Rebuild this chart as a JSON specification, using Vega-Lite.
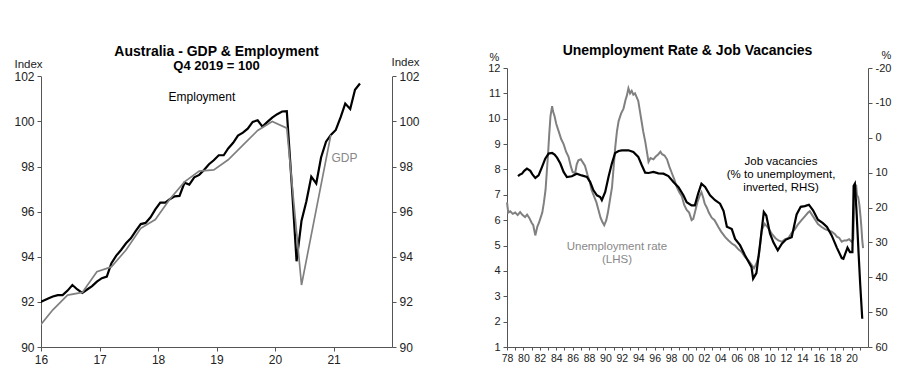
{
  "$schema": "https://vega.github.io/schema/vega-lite/v6.json",
  "background": "white",
  "padding": {"left": 13, "top": 44, "right": 5, "bottom": 2},
  "spacing": 67,
  "config": {
    "font": "Liberation Sans",
    "view": {"stroke": null},
    "axis": {"grid": false, "domainColor": "#555", "tickColor": "#555", "labelColor": "#222", "labelFont": "Liberation Sans", "titleFont": "Liberation Sans", "titleFontWeight": "normal", "titleColor": "#222", "tickSize": 4, "labelOverlap": false}
  },
  "datasets": {
    "gdpemp": [
      {"date": "2015-12-15", "series": "Employment", "value": 91.95},
      {"date": "2016-01-15", "series": "Employment", "value": 92.05},
      {"date": "2016-02-15", "series": "Employment", "value": 92.15},
      {"date": "2016-03-15", "series": "Employment", "value": 92.24},
      {"date": "2016-04-15", "series": "Employment", "value": 92.3},
      {"date": "2016-05-15", "series": "Employment", "value": 92.3},
      {"date": "2016-06-15", "series": "Employment", "value": 92.5},
      {"date": "2016-07-15", "series": "Employment", "value": 92.75},
      {"date": "2016-08-15", "series": "Employment", "value": 92.55},
      {"date": "2016-09-15", "series": "Employment", "value": 92.4},
      {"date": "2016-10-15", "series": "Employment", "value": 92.55},
      {"date": "2016-11-15", "series": "Employment", "value": 92.7},
      {"date": "2016-12-15", "series": "Employment", "value": 92.9},
      {"date": "2017-01-15", "series": "Employment", "value": 93.05},
      {"date": "2017-02-15", "series": "Employment", "value": 93.12},
      {"date": "2017-03-15", "series": "Employment", "value": 93.7},
      {"date": "2017-04-15", "series": "Employment", "value": 94.05},
      {"date": "2017-05-15", "series": "Employment", "value": 94.3},
      {"date": "2017-06-15", "series": "Employment", "value": 94.6},
      {"date": "2017-07-15", "series": "Employment", "value": 94.82},
      {"date": "2017-08-15", "series": "Employment", "value": 95.15},
      {"date": "2017-09-15", "series": "Employment", "value": 95.45},
      {"date": "2017-10-15", "series": "Employment", "value": 95.5},
      {"date": "2017-11-15", "series": "Employment", "value": 95.75},
      {"date": "2017-12-15", "series": "Employment", "value": 96.1},
      {"date": "2018-01-15", "series": "Employment", "value": 96.4},
      {"date": "2018-02-15", "series": "Employment", "value": 96.4},
      {"date": "2018-03-15", "series": "Employment", "value": 96.55},
      {"date": "2018-04-15", "series": "Employment", "value": 96.68},
      {"date": "2018-05-15", "series": "Employment", "value": 96.7},
      {"date": "2018-06-15", "series": "Employment", "value": 97.28},
      {"date": "2018-07-15", "series": "Employment", "value": 97.2},
      {"date": "2018-08-15", "series": "Employment", "value": 97.52},
      {"date": "2018-09-15", "series": "Employment", "value": 97.63},
      {"date": "2018-10-15", "series": "Employment", "value": 97.85},
      {"date": "2018-11-15", "series": "Employment", "value": 98.1},
      {"date": "2018-12-15", "series": "Employment", "value": 98.28},
      {"date": "2019-01-15", "series": "Employment", "value": 98.5},
      {"date": "2019-02-15", "series": "Employment", "value": 98.5},
      {"date": "2019-03-15", "series": "Employment", "value": 98.8},
      {"date": "2019-04-15", "series": "Employment", "value": 99.05},
      {"date": "2019-05-15", "series": "Employment", "value": 99.37},
      {"date": "2019-06-15", "series": "Employment", "value": 99.5},
      {"date": "2019-07-15", "series": "Employment", "value": 99.68},
      {"date": "2019-08-15", "series": "Employment", "value": 99.98},
      {"date": "2019-09-15", "series": "Employment", "value": 100.05},
      {"date": "2019-10-15", "series": "Employment", "value": 99.77},
      {"date": "2019-11-15", "series": "Employment", "value": 99.98},
      {"date": "2019-12-15", "series": "Employment", "value": 100.17},
      {"date": "2020-01-15", "series": "Employment", "value": 100.32},
      {"date": "2020-02-15", "series": "Employment", "value": 100.44},
      {"date": "2020-03-15", "series": "Employment", "value": 100.45},
      {"date": "2020-04-15", "series": "Employment", "value": 97.2},
      {"date": "2020-05-15", "series": "Employment", "value": 93.8},
      {"date": "2020-06-15", "series": "Employment", "value": 95.6},
      {"date": "2020-07-15", "series": "Employment", "value": 96.45},
      {"date": "2020-08-15", "series": "Employment", "value": 97.55},
      {"date": "2020-09-15", "series": "Employment", "value": 97.25},
      {"date": "2020-10-15", "series": "Employment", "value": 98.4},
      {"date": "2020-11-15", "series": "Employment", "value": 99.1},
      {"date": "2020-12-15", "series": "Employment", "value": 99.4},
      {"date": "2021-01-15", "series": "Employment", "value": 99.62},
      {"date": "2021-02-15", "series": "Employment", "value": 100.2},
      {"date": "2021-03-15", "series": "Employment", "value": 100.79},
      {"date": "2021-04-15", "series": "Employment", "value": 100.55},
      {"date": "2021-05-15", "series": "Employment", "value": 101.4},
      {"date": "2021-06-15", "series": "Employment", "value": 101.68},
      {"date": "2015-12-15", "series": "GDP", "value": 90.85},
      {"date": "2016-03-15", "series": "GDP", "value": 91.65},
      {"date": "2016-06-15", "series": "GDP", "value": 92.3},
      {"date": "2016-09-15", "series": "GDP", "value": 92.42},
      {"date": "2016-12-15", "series": "GDP", "value": 93.34},
      {"date": "2017-03-15", "series": "GDP", "value": 93.55},
      {"date": "2017-06-15", "series": "GDP", "value": 94.3},
      {"date": "2017-09-15", "series": "GDP", "value": 95.26},
      {"date": "2017-12-15", "series": "GDP", "value": 95.65},
      {"date": "2018-03-15", "series": "GDP", "value": 96.55},
      {"date": "2018-06-15", "series": "GDP", "value": 97.32},
      {"date": "2018-09-15", "series": "GDP", "value": 97.8},
      {"date": "2018-12-15", "series": "GDP", "value": 97.85},
      {"date": "2019-03-15", "series": "GDP", "value": 98.3},
      {"date": "2019-06-15", "series": "GDP", "value": 98.95},
      {"date": "2019-09-15", "series": "GDP", "value": 99.6},
      {"date": "2019-12-15", "series": "GDP", "value": 100.0},
      {"date": "2020-03-15", "series": "GDP", "value": 99.7},
      {"date": "2020-06-15", "series": "GDP", "value": 92.75},
      {"date": "2020-09-15", "series": "GDP", "value": 96.1},
      {"date": "2020-12-15", "series": "GDP", "value": 99.4}
    ],
    "unemp": [
      {"year": 1978.0, "rate": 6.7}, {"year": 1978.15, "rate": 6.3}, {"year": 1978.4, "rate": 6.35}, {"year": 1978.7, "rate": 6.25},
      {"year": 1979.0, "rate": 6.3}, {"year": 1979.3, "rate": 6.2}, {"year": 1979.6, "rate": 6.32}, {"year": 1979.9, "rate": 6.2},
      {"year": 1980.2, "rate": 6.12}, {"year": 1980.45, "rate": 6.22}, {"year": 1980.7, "rate": 6.1}, {"year": 1981.0, "rate": 5.9},
      {"year": 1981.2, "rate": 5.8}, {"year": 1981.45, "rate": 5.4}, {"year": 1981.7, "rate": 5.75}, {"year": 1981.9, "rate": 5.9},
      {"year": 1982.1, "rate": 6.1}, {"year": 1982.3, "rate": 6.3}, {"year": 1982.5, "rate": 6.7}, {"year": 1982.7, "rate": 7.2},
      {"year": 1982.85, "rate": 7.9}, {"year": 1983.0, "rate": 8.6}, {"year": 1983.15, "rate": 9.4}, {"year": 1983.3, "rate": 10.1},
      {"year": 1983.5, "rate": 10.5}, {"year": 1983.6, "rate": 10.3}, {"year": 1983.8, "rate": 10.1}, {"year": 1984.0, "rate": 9.8},
      {"year": 1984.3, "rate": 9.5}, {"year": 1984.6, "rate": 9.2}, {"year": 1984.9, "rate": 9.0}, {"year": 1985.2, "rate": 8.7},
      {"year": 1985.5, "rate": 8.5}, {"year": 1985.8, "rate": 8.1}, {"year": 1986.0, "rate": 7.9}, {"year": 1986.3, "rate": 7.85},
      {"year": 1986.5, "rate": 8.2}, {"year": 1986.7, "rate": 8.36}, {"year": 1987.0, "rate": 8.4}, {"year": 1987.3, "rate": 8.25},
      {"year": 1987.5, "rate": 8.15}, {"year": 1987.8, "rate": 7.8}, {"year": 1988.1, "rate": 7.5}, {"year": 1988.3, "rate": 7.2},
      {"year": 1988.6, "rate": 6.95}, {"year": 1988.9, "rate": 6.7}, {"year": 1989.15, "rate": 6.4}, {"year": 1989.4, "rate": 6.1},
      {"year": 1989.6, "rate": 5.95}, {"year": 1989.85, "rate": 5.8}, {"year": 1990.1, "rate": 6.0}, {"year": 1990.3, "rate": 6.3},
      {"year": 1990.55, "rate": 6.8}, {"year": 1990.8, "rate": 7.3}, {"year": 1991.0, "rate": 8.1}, {"year": 1991.2, "rate": 8.9},
      {"year": 1991.4, "rate": 9.5}, {"year": 1991.6, "rate": 9.9}, {"year": 1991.9, "rate": 10.2}, {"year": 1992.2, "rate": 10.4},
      {"year": 1992.45, "rate": 10.75}, {"year": 1992.6, "rate": 10.9}, {"year": 1992.8, "rate": 11.2}, {"year": 1993.0, "rate": 11.0},
      {"year": 1993.2, "rate": 11.1}, {"year": 1993.4, "rate": 10.95}, {"year": 1993.6, "rate": 11.0}, {"year": 1993.8, "rate": 10.85},
      {"year": 1994.0, "rate": 10.7}, {"year": 1994.2, "rate": 10.3}, {"year": 1994.4, "rate": 9.9}, {"year": 1994.6, "rate": 9.5},
      {"year": 1994.85, "rate": 9.1}, {"year": 1995.05, "rate": 8.7}, {"year": 1995.25, "rate": 8.3}, {"year": 1995.5, "rate": 8.45},
      {"year": 1995.85, "rate": 8.4}, {"year": 1996.1, "rate": 8.5}, {"year": 1996.45, "rate": 8.6}, {"year": 1996.7, "rate": 8.7},
      {"year": 1996.9, "rate": 8.6}, {"year": 1997.2, "rate": 8.55}, {"year": 1997.5, "rate": 8.4}, {"year": 1997.8, "rate": 8.1},
      {"year": 1998.1, "rate": 7.85}, {"year": 1998.4, "rate": 7.6}, {"year": 1998.7, "rate": 7.3}, {"year": 1999.0, "rate": 7.1},
      {"year": 1999.3, "rate": 6.95}, {"year": 1999.6, "rate": 6.6}, {"year": 1999.9, "rate": 6.4}, {"year": 2000.2, "rate": 6.3},
      {"year": 2000.5, "rate": 6.0}, {"year": 2000.7, "rate": 6.05}, {"year": 2000.9, "rate": 6.3}, {"year": 2001.2, "rate": 6.7},
      {"year": 2001.5, "rate": 6.98}, {"year": 2001.7, "rate": 7.1}, {"year": 2001.9, "rate": 6.9}, {"year": 2002.1, "rate": 6.65},
      {"year": 2002.35, "rate": 6.5}, {"year": 2002.6, "rate": 6.3}, {"year": 2002.95, "rate": 6.1}, {"year": 2003.3, "rate": 6.0},
      {"year": 2003.76, "rate": 5.73}, {"year": 2004.1, "rate": 5.55}, {"year": 2004.6, "rate": 5.33}, {"year": 2005.0, "rate": 5.2},
      {"year": 2005.4, "rate": 5.08}, {"year": 2005.8, "rate": 5.0}, {"year": 2006.2, "rate": 4.85}, {"year": 2006.6, "rate": 4.75},
      {"year": 2007.0, "rate": 4.55}, {"year": 2007.4, "rate": 4.42}, {"year": 2007.8, "rate": 4.25}, {"year": 2008.1, "rate": 4.1},
      {"year": 2008.4, "rate": 4.29}, {"year": 2008.7, "rate": 4.6}, {"year": 2009.05, "rate": 5.6}, {"year": 2009.4, "rate": 5.86},
      {"year": 2009.7, "rate": 5.75}, {"year": 2010.0, "rate": 5.6}, {"year": 2010.26, "rate": 5.47}, {"year": 2010.7, "rate": 5.3},
      {"year": 2011.07, "rate": 5.2}, {"year": 2011.5, "rate": 5.15}, {"year": 2011.9, "rate": 5.25}, {"year": 2012.3, "rate": 5.3},
      {"year": 2012.7, "rate": 5.5}, {"year": 2013.1, "rate": 5.65}, {"year": 2013.5, "rate": 5.85}, {"year": 2013.9, "rate": 6.0},
      {"year": 2014.3, "rate": 6.15}, {"year": 2014.7, "rate": 6.3}, {"year": 2014.9, "rate": 6.35}, {"year": 2015.2, "rate": 6.2},
      {"year": 2015.5, "rate": 6.05}, {"year": 2015.9, "rate": 5.85}, {"year": 2016.35, "rate": 5.73}, {"year": 2016.75, "rate": 5.65},
      {"year": 2017.15, "rate": 5.6}, {"year": 2017.57, "rate": 5.55}, {"year": 2017.97, "rate": 5.45}, {"year": 2018.2, "rate": 5.35},
      {"year": 2018.5, "rate": 5.3}, {"year": 2018.8, "rate": 5.15}, {"year": 2019.1, "rate": 5.2}, {"year": 2019.4, "rate": 5.2},
      {"year": 2019.7, "rate": 5.25}, {"year": 2020.0, "rate": 5.15}, {"year": 2020.2, "rate": 5.25}, {"year": 2020.3, "rate": 6.4},
      {"year": 2020.45, "rate": 7.2}, {"year": 2020.55, "rate": 7.4}, {"year": 2020.65, "rate": 7.0}, {"year": 2020.8, "rate": 6.9},
      {"year": 2020.95, "rate": 6.6}, {"year": 2021.1, "rate": 6.1}, {"year": 2021.2, "rate": 5.7}, {"year": 2021.3, "rate": 5.2},
      {"year": 2021.4, "rate": 4.9}
    ],
    "vac": [
      {"year": 1979.34, "ratio": 11.0}, {"year": 1979.6, "ratio": 10.5}, {"year": 1979.83, "ratio": 10.3}, {"year": 1980.1, "ratio": 9.5},
      {"year": 1980.43, "ratio": 8.85}, {"year": 1980.84, "ratio": 9.5}, {"year": 1981.1, "ratio": 10.5}, {"year": 1981.45, "ratio": 11.5},
      {"year": 1981.85, "ratio": 10.77}, {"year": 1982.26, "ratio": 8.4}, {"year": 1982.66, "ratio": 6.0}, {"year": 1983.07, "ratio": 4.55},
      {"year": 1983.5, "ratio": 4.37}, {"year": 1983.8, "ratio": 4.8}, {"year": 1984.1, "ratio": 5.7}, {"year": 1984.5, "ratio": 7.4},
      {"year": 1984.9, "ratio": 9.8}, {"year": 1985.3, "ratio": 11.25}, {"year": 1985.9, "ratio": 11.05}, {"year": 1986.5, "ratio": 10.3},
      {"year": 1987.1, "ratio": 10.8}, {"year": 1987.74, "ratio": 11.25}, {"year": 1988.14, "ratio": 12.7}, {"year": 1988.54, "ratio": 15.07},
      {"year": 1988.96, "ratio": 16.5}, {"year": 1989.36, "ratio": 17.0}, {"year": 1989.56, "ratio": 17.9}, {"year": 1989.97, "ratio": 15.55},
      {"year": 1990.37, "ratio": 11.25}, {"year": 1990.78, "ratio": 7.4}, {"year": 1991.18, "ratio": 4.37}, {"year": 1991.6, "ratio": 3.8},
      {"year": 1992.0, "ratio": 3.6}, {"year": 1992.8, "ratio": 3.6}, {"year": 1993.4, "ratio": 4.09}, {"year": 1994.0, "ratio": 5.5},
      {"year": 1994.43, "ratio": 7.9}, {"year": 1994.84, "ratio": 10.0}, {"year": 1995.24, "ratio": 10.1}, {"year": 1995.85, "ratio": 9.8},
      {"year": 1996.45, "ratio": 10.2}, {"year": 1997.07, "ratio": 10.3}, {"year": 1997.67, "ratio": 11.0}, {"year": 1998.28, "ratio": 12.7},
      {"year": 1998.9, "ratio": 14.2}, {"year": 1999.5, "ratio": 16.5}, {"year": 1999.9, "ratio": 18.5}, {"year": 2000.5, "ratio": 19.4},
      {"year": 2000.9, "ratio": 19.4}, {"year": 2001.3, "ratio": 16.0}, {"year": 2001.7, "ratio": 13.15}, {"year": 2002.15, "ratio": 14.1},
      {"year": 2002.75, "ratio": 16.5}, {"year": 2003.36, "ratio": 17.9}, {"year": 2003.97, "ratio": 18.9}, {"year": 2004.4, "ratio": 21.0},
      {"year": 2004.8, "ratio": 25.5}, {"year": 2005.4, "ratio": 26.2}, {"year": 2005.8, "ratio": 29.0}, {"year": 2006.4, "ratio": 30.8},
      {"year": 2007.0, "ratio": 33.7}, {"year": 2007.8, "ratio": 37.1}, {"year": 2008.0, "ratio": 40.4}, {"year": 2008.4, "ratio": 38.8},
      {"year": 2008.85, "ratio": 30.4}, {"year": 2009.3, "ratio": 21.3}, {"year": 2009.6, "ratio": 22.3}, {"year": 2010.06, "ratio": 27.5},
      {"year": 2010.47, "ratio": 30.0}, {"year": 2011.0, "ratio": 32.3}, {"year": 2011.5, "ratio": 30.4}, {"year": 2012.0, "ratio": 29.2},
      {"year": 2012.7, "ratio": 28.5}, {"year": 2013.3, "ratio": 22.0}, {"year": 2013.8, "ratio": 19.8}, {"year": 2014.3, "ratio": 19.6},
      {"year": 2014.8, "ratio": 19.2}, {"year": 2015.3, "ratio": 20.8}, {"year": 2015.9, "ratio": 23.5}, {"year": 2016.5, "ratio": 24.5},
      {"year": 2017.0, "ratio": 25.6}, {"year": 2017.57, "ratio": 28.0}, {"year": 2018.2, "ratio": 31.5}, {"year": 2018.8, "ratio": 34.5},
      {"year": 2019.0, "ratio": 34.7}, {"year": 2019.5, "ratio": 31.5}, {"year": 2019.8, "ratio": 32.8}, {"year": 2020.1, "ratio": 32.8},
      {"year": 2020.25, "ratio": 13.8}, {"year": 2020.4, "ratio": 13.2}, {"year": 2020.6, "ratio": 21.0}, {"year": 2020.85, "ratio": 33.0},
      {"year": 2021.05, "ratio": 42.0}, {"year": 2021.3, "ratio": 51.9}
    ]
  },
  "hconcat": [
    {
      "width": 351,
      "height": 279,
      "title": {"text": "Australia - GDP & Employment", "subtitle": "Q4 2019 = 100", "fontSize": 14, "fontWeight": "bold", "color": "#000", "subtitleFontSize": 13, "subtitleFontWeight": "bold", "subtitleColor": "#000", "subtitlePadding": 1, "anchor": "middle", "frame": "group", "offset": -17},
      "encoding": {
        "x": {"field": "date", "type": "temporal", "scale": {"domain": [{"year": 2016, "month": 1, "date": 1}, {"year": 2022, "month": 1, "date": 1}]},
              "axis": {"title": null, "values": [{"year": 2016, "month": 1, "date": 1}, {"year": 2017, "month": 1, "date": 1}, {"year": 2018, "month": 1, "date": 1}, {"year": 2019, "month": 1, "date": 1}, {"year": 2020, "month": 1, "date": 1}, {"year": 2021, "month": 1, "date": 1}], "format": "%y", "labelFontSize": 12, "labelPadding": 3, "labelDx": 2, "labelFlush": false, "labelOverlap": false}}
      },
      "layer": [
        {
          "encoding": {
            "y": {"field": "value", "type": "quantitative", "scale": {"domain": [90, 102], "range": [279, 8.3], "nice": false, "zero": false},
                  "axis": {"title": "Index", "values": [90, 92, 94, 96, 98, 100, 102], "labelFontSize": 12, "labelPadding": 3, "labelOverlap": false, "titleAngle": 0, "titleFontSize": 11.5, "titleAlign": "center", "titleBaseline": "alphabetic", "titleX": -13, "titleY": -1}}
          },
          "layer": [
            {
              "data": {"name": "gdpemp"},
              "mark": {"type": "line", "clip": true},
              "encoding": {
                "color": {"field": "series", "type": "nominal", "scale": {"domain": ["Employment", "GDP"], "range": ["#000000", "#808080"]}, "legend": null},
                "strokeWidth": {"field": "series", "type": "nominal", "scale": {"domain": ["Employment", "GDP"], "range": [2.2, 1.7]}, "legend": null},
                "order": {"field": "date", "type": "temporal"}
              }
            },
            {
              "data": {"values": [{"date": "2018-10-02", "value": 101.1, "label": "Employment"}]},
              "mark": {"type": "text", "fontSize": 12, "color": "#000", "align": "center", "baseline": "middle"},
              "encoding": {"text": {"field": "label"}}
            },
            {
              "data": {"values": [{"date": "2021-03-10", "value": 98.37, "label": "GDP"}]},
              "mark": {"type": "text", "fontSize": 12, "color": "#888", "align": "center", "baseline": "middle"},
              "encoding": {"text": {"field": "label"}}
            }
          ]
        },
        {
          "data": {"name": "gdpemp"},
          "mark": {"type": "point", "opacity": 0},
          "encoding": {
            "y": {"field": "value", "type": "quantitative", "scale": {"domain": [90, 102], "range": [279, 8.3], "nice": false, "zero": false},
                  "axis": {"orient": "right", "title": "Index", "values": [90, 92, 94, 96, 98, 100, 102], "labelFontSize": 12, "labelPadding": 3, "labelOverlap": false, "titleAngle": 0, "titleFontSize": 11.5, "titleAlign": "center", "titleBaseline": "alphabetic", "titleX": 13, "titleY": -3}}
          }
        }
      ],
      "resolve": {"scale": {"y": "independent"}, "axis": {"y": "independent"}}
    },
    {
      "width": 361,
      "height": 279,
      "title": {"text": "Unemployment Rate & Job Vacancies", "fontSize": 14, "fontWeight": "bold", "color": "#000", "anchor": "middle", "frame": "group", "offset": -9},
      "encoding": {
        "x": {"field": "year", "type": "quantitative", "scale": {"domain": [1978, 2022], "nice": false, "zero": false},
              "axis": {"title": null, "values": [1978, 1979, 1980, 1981, 1982, 1983, 1984, 1985, 1986, 1987, 1988, 1989, 1990, 1991, 1992, 1993, 1994, 1995, 1996, 1997, 1998, 1999, 2000, 2001, 2002, 2003, 2004, 2005, 2006, 2007, 2008, 2009, 2010, 2011, 2012, 2013, 2014, 2015, 2016, 2017, 2018, 2019, 2020, 2021], "labelExpr": "datum.value % 2 == 0 ? substring(toString(datum.value), 2, 4) : ''", "labelFontSize": 10.5, "labelPadding": 3, "labelFlush": false, "labelOverlap": false, "tickSize": 3}}
      },
      "layer": [
        {
          "encoding": {
            "y": {"field": "rate", "type": "quantitative", "scale": {"domain": [1, 12], "nice": false, "zero": false},
                  "axis": {"title": "%", "values": [1, 2, 3, 4, 5, 6, 7, 8, 9, 10, 11, 12], "labelFontSize": 11, "labelPadding": 3, "labelOverlap": false, "titleAngle": 0, "titleFontSize": 11, "titleAlign": "center", "titleBaseline": "alphabetic", "titleX": -13, "titleY": -8}}
          },
          "layer": [
            {
              "data": {"name": "unemp"},
              "mark": {"type": "line", "color": "#808080", "strokeWidth": 2}
            },
            {
              "data": {"values": [{"year": 2011.4, "rate": 8.29, "label": "Job vacancies"}, {"year": 2011.4, "rate": 7.77, "label": "(% to unemployment,"}, {"year": 2011.4, "rate": 7.25, "label": "inverted, RHS)"}]},
              "mark": {"type": "text", "fontSize": 11.5, "color": "#000", "align": "center", "baseline": "middle"},
              "encoding": {"text": {"field": "label"}}
            },
            {
              "data": {"values": [{"year": 1991.4, "rate": 4.94, "label": "Unemployment rate"}, {"year": 1991.4, "rate": 4.42, "label": "(LHS)"}]},
              "mark": {"type": "text", "fontSize": 11.5, "color": "#888", "align": "center", "baseline": "middle"},
              "encoding": {"text": {"field": "label"}}
            }
          ]
        },
        {
          "data": {"name": "vac"},
          "mark": {"type": "line", "color": "#000000", "strokeWidth": 2.2},
          "encoding": {
            "y": {"field": "ratio", "type": "quantitative", "scale": {"domain": [-20, 60], "nice": false, "zero": false, "reverse": true},
                  "axis": {"orient": "right", "title": "%", "values": [-20, -10, 0, 10, 20, 30, 40, 50, 60], "labelExpr": "toString(datum.value)", "labelFontSize": 11, "labelPadding": 3, "labelOverlap": false, "titleAngle": 0, "titleFontSize": 11, "titleAlign": "center", "titleBaseline": "alphabetic", "titleX": 18, "titleY": -10}}
          }
        }
      ],
      "resolve": {"scale": {"y": "independent"}, "axis": {"y": "independent"}}
    }
  ]
}
